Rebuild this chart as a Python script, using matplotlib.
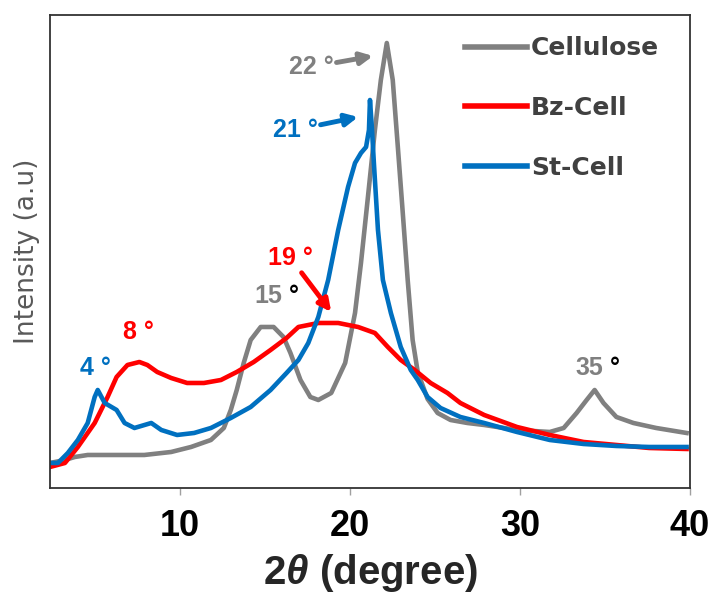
import matplotlib
matplotlib.use('Agg')
import matplotlib.pyplot as plt

plt.rcParams['mathtext.fontset'] = 'custom'
plt.rcParams['mathtext.it'] = 'Liberation Sans:italic:bold'
plt.rcParams['mathtext.rm'] = 'Liberation Sans:bold'

# XRD patterns (2theta in degrees, intensity in a.u.)
cell_x = [2.34, 3.22, 3.80, 4.56, 5.96, 7.89, 9.47, 10.64, 11.81, 12.57,
          12.98, 13.33, 13.74, 14.15, 14.74, 15.50, 16.08, 16.49, 17.08, 17.66,
          18.13, 18.89, 19.71, 20.29, 20.64, 21.05, 21.46, 21.81, 22.16, 22.51,
          22.81, 23.10, 23.39, 23.68, 23.98, 24.56, 25.15, 25.91, 26.90, 27.89,
          29.82, 31.75, 32.57, 33.33, 33.92, 34.39, 34.91, 35.67, 36.67, 38.01,
          39.8]
cell_y = [27, 30, 33, 35, 35, 35, 38, 43, 50, 62,
          80, 100, 127, 150, 163, 163, 153, 137, 110, 93,
          90, 97, 127, 177, 227, 293, 360, 410, 447, 410,
          343, 277, 210, 150, 118, 91, 77, 70, 67, 65,
          60, 58, 62, 77, 90, 100, 87, 73, 67, 62,
          57]

bz_x = [2.34, 3.22, 3.98, 4.97, 5.73, 6.26, 6.90, 7.60, 8.07, 8.65,
        9.47, 10.41, 11.40, 12.40, 13.33, 14.33, 15.32, 16.26, 16.96, 18.13,
        19.30, 20.47, 21.46, 22.22, 22.98, 23.80, 24.74, 25.73, 26.49, 27.89,
        29.82, 31.75, 33.74, 35.67, 37.60, 39.8]
bz_y = [23, 27, 43, 67, 93, 113, 125, 128, 125, 118,
        112, 107, 107, 110, 118, 128, 140, 152, 163, 167,
        167, 163, 157, 143, 130, 120, 107, 97, 87, 75,
        63, 55, 48, 45, 42, 41]

st_x = [2.34, 2.81, 3.39, 3.98, 4.56, 4.97, 5.15, 5.56, 5.96, 6.26,
        6.73, 7.31, 8.30, 8.89, 9.82, 10.82, 11.81, 12.98, 14.15, 15.32,
        16.26, 16.96, 17.54, 18.13, 18.71, 19.30, 19.88, 20.29, 20.64, 20.94,
        21.11, 21.17, 21.29, 21.40, 21.64, 21.93, 22.40, 22.98, 23.57, 23.98,
        24.56, 25.32, 26.49, 27.89, 29.82, 31.75, 33.74, 35.67, 37.60, 39.8]
st_y = [27, 27, 37, 50, 67, 93, 100, 87, 83, 80,
        67, 62, 67, 60, 55, 57, 62, 72, 83, 100,
        117, 130, 147, 173, 210, 260, 303, 327, 337, 343,
        360, 390, 360, 327, 260, 210, 177, 143, 120, 110,
        93, 82, 73, 67, 58, 50, 46, 44, 43, 43]

series = ['Cellulose', 'Bz-Cell', 'St-Cell']
colors = ['#808080', '#FF0000', '#0070C0']

fig = plt.figure(figsize=(7.13, 5.93), dpi=100)
ax = fig.add_axes([0.0701, 0.1771, 0.8976, 0.7976])

for xs, ys, name, c in zip([cell_x, bz_x, st_x], [cell_y, bz_y, st_y], series, colors):
    ax.plot(xs, ys, color=c, lw=3.3, label=name, solid_joinstyle='round')

ax.set_xlim(2.34, 39.8)
ax.set_ylim(2, 475)
ax.set_yticks([])
ax.set_xticks([10, 20, 30, 40])
ax.tick_params(axis='x', direction='out', length=5, width=1, color='#a0a0a0', pad=10)
for lab in ax.get_xticklabels():
    lab.set_family('Liberation Sans')
    lab.set_fontweight('bold')
    lab.set_fontsize(26)
for s in ax.spines.values():
    s.set_color('#333333')
    s.set_linewidth(1.3)

ax.set_xlabel(r'2$\mathit{\theta}$ (degree)', family='Liberation Sans', fontsize=29,
              fontweight='bold', color='#262626', labelpad=6)
ax.set_ylabel('Intensity (a.u)', family='DejaVu Sans', fontsize=19, color='#595959', labelpad=7)

leg = ax.legend(loc='upper left', bbox_to_anchor=(0.648, 0.955), frameon=False,
                handlelength=2.5, handletextpad=0.15, labelspacing=1.43,
                borderpad=0, borderaxespad=0,
                prop={'family': 'DejaVu Sans', 'weight': 'bold', 'size': 18})
for t in leg.get_texts():
    t.set_color('#404040')
for h in leg.get_lines():
    h.set_linewidth(4)

font = dict(family='Liberation Sans', fontweight='bold', fontsize=18)
arrow = dict(arrowstyle='-|>', lw=3.5, mutation_scale=18, shrinkA=0, shrinkB=0)

ax.annotate('22 °', xy=(21.35, 434), xytext=(17.72, 423), color='#808080',
            ha='center', va='center', arrowprops=dict(arrow, color='#808080'), **font)
ax.annotate('21 °', xy=(20.47, 373), xytext=(16.78, 360), color='#0070C0',
            ha='center', va='center', arrowprops=dict(arrow, color='#0070C0'), **font)
ax.annotate('19 °', xy=(18.89, 178), xytext=(16.49, 232), color='#FF0000',
            ha='center', va='center', arrowprops=dict(arrow, color='#FF0000'), **font)

ax.text(7.54, 158, '8 °', color='#FF0000', ha='center', va='center', **font)
ax.text(5.03, 122, '4 °', color='#0070C0', ha='center', va='center', **font)

ax.text(16.0, 187, '15', color='#808080', ha='right', va='baseline', **font)
ax.text(16.0, 187, ' °', color='#000000', ha='left', va='baseline', **font)
ax.text(34.9, 115, '35', color='#808080', ha='right', va='baseline', **font)
ax.text(34.9, 115, ' °', color='#000000', ha='left', va='baseline', **font)

fig.savefig('out.png', dpi=100)
